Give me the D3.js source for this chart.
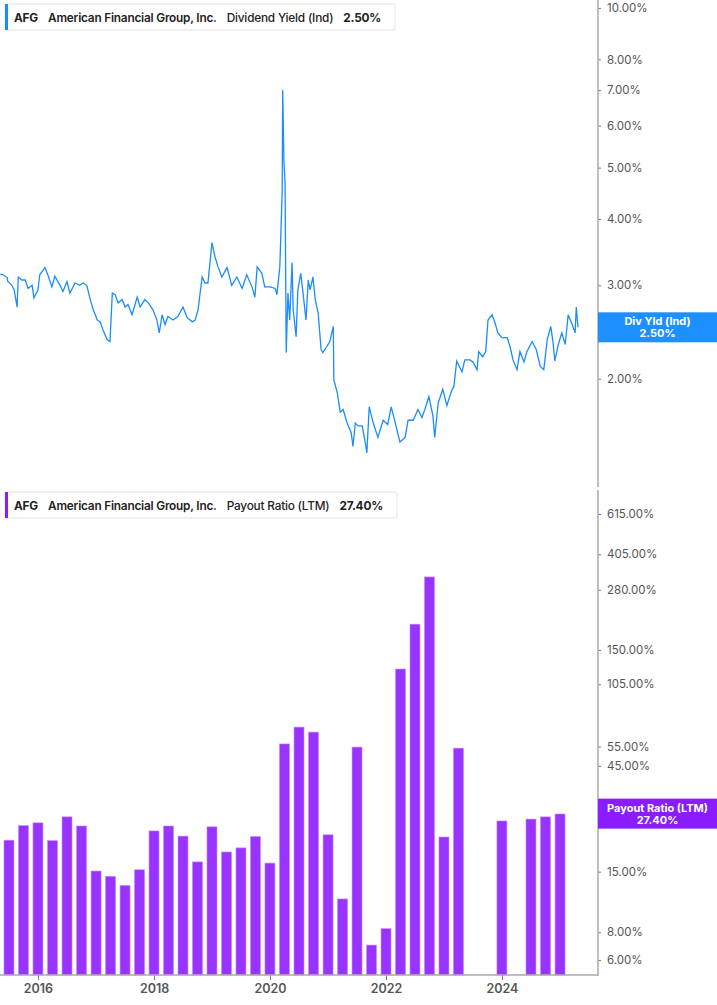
<!DOCTYPE html>
<html><head><meta charset="utf-8">
<script src="https://cdn.jsdelivr.net/npm/d3@7/dist/d3.min.js"></script>
<style>body{margin:0;background:#fff;font-family:Inter,"Open Sans",sans-serif}</style>
</head><body><svg id="c" width="717" height="1005"></svg>
<script>
// Dividend yield (%) by decimal year
const yieldYears = [2015.35,2015.40,2015.47,2015.48,2015.55,2015.59,2015.64,2015.66,2015.72,2015.78,2015.83,2015.90,2015.93,2016.00,2016.03,2016.12,2016.17,2016.24,2016.29,2016.38,2016.43,2016.50,2016.55,2016.64,2016.72,2016.78,2016.84,2016.90,2016.95,2017.02,2017.07,2017.12,2017.19,2017.24,2017.28,2017.33,2017.38,2017.45,2017.50,2017.55,2017.62,2017.71,2017.76,2017.84,2017.90,2017.98,2018.05,2018.09,2018.14,2018.19,2018.24,2018.33,2018.41,2018.50,2018.57,2018.66,2018.71,2018.76,2018.83,2018.88,2018.93,2019.00,2019.05,2019.10,2019.17,2019.26,2019.34,2019.43,2019.52,2019.60,2019.69,2019.74,2019.78,2019.86,2019.91,2020.00,2020.09,2020.12,2020.17,2020.21,2020.22,2020.24,2020.26,2020.28,2020.31,2020.34,2020.38,2020.40,2020.45,2020.48,2020.53,2020.57,2020.62,2020.66,2020.69,2020.74,2020.78,2020.83,2020.88,2020.91,2020.98,2021.03,2021.09,2021.10,2021.16,2021.21,2021.26,2021.33,2021.40,2021.43,2021.47,2021.52,2021.59,2021.64,2021.67,2021.71,2021.78,2021.86,2021.95,2022.03,2022.09,2022.16,2022.24,2022.33,2022.38,2022.47,2022.55,2022.62,2022.67,2022.74,2022.81,2022.84,2022.90,2022.98,2023.05,2023.14,2023.17,2023.22,2023.31,2023.36,2023.45,2023.50,2023.57,2023.60,2023.67,2023.72,2023.76,2023.83,2023.88,2023.93,2024.00,2024.09,2024.14,2024.19,2024.26,2024.31,2024.38,2024.43,2024.52,2024.59,2024.66,2024.72,2024.78,2024.84,2024.88,2024.91,2024.97,2025.03,2025.09,2025.14,2025.21,2025.26,2025.28,2025.31];
const yieldValues = [3.15,3.14,3.10,3.05,3.00,2.94,2.73,3.11,3.07,3.07,2.96,3.00,2.84,2.94,3.14,3.24,3.14,2.98,3.12,3.00,2.92,3.05,2.90,3.03,3.00,3.03,3.00,2.82,2.70,2.58,2.56,2.47,2.37,2.35,2.90,2.88,2.78,2.82,2.73,2.76,2.64,2.85,2.73,2.82,2.78,2.70,2.58,2.44,2.64,2.53,2.62,2.58,2.62,2.73,2.61,2.56,2.58,2.70,3.11,3.03,3.03,3.61,3.40,3.26,3.11,3.24,3.00,3.11,2.96,3.14,2.98,2.85,3.25,3.16,2.98,2.98,2.96,2.88,3.25,4.48,7.00,5.17,4.68,2.24,2.90,2.58,3.31,2.70,2.40,2.94,3.16,2.90,2.58,3.07,2.94,3.11,2.82,2.66,2.27,2.24,2.30,2.35,2.51,1.99,1.88,1.73,1.75,1.65,1.58,1.49,1.65,1.63,1.63,1.52,1.45,1.77,1.65,1.55,1.67,1.64,1.77,1.65,1.52,1.55,1.67,1.67,1.75,1.69,1.75,1.85,1.70,1.55,1.80,1.91,1.78,1.91,1.93,2.16,2.06,2.17,2.17,2.15,2.08,2.25,2.20,2.25,2.58,2.64,2.55,2.44,2.39,2.39,2.30,2.17,2.08,2.25,2.15,2.25,2.35,2.27,2.11,2.08,2.37,2.51,2.34,2.16,2.32,2.44,2.32,2.64,2.53,2.44,2.73,2.50];
// Payout ratio (LTM, %) by quarter
const payoutYears = [2015.50,2015.75,2016.00,2016.25,2016.50,2016.75,2017.00,2017.25,2017.50,2017.75,2018.00,2018.25,2018.50,2018.75,2019.00,2019.25,2019.50,2019.75,2020.00,2020.25,2020.50,2020.75,2021.00,2021.25,2021.50,2021.75,2022.00,2022.25,2022.50,2022.75,2023.00,2023.25,2024.00,2024.50,2024.75,2025.00];
const payoutValues = [20.8,24.2,24.9,20.7,26.5,24.1,15.1,14.3,13.0,15.3,22.9,24.1,21.7,16.6,23.9,18.4,19.2,21.6,16.4,56.5,67.3,63.9,22.0,11.3,54.7,7.0,8.3,123,196,320,21.5,54.1,25.4,25.9,26.5,27.3];
const yieldTicks = [2,3,4,5,6,7,8,10];
const payoutTicks = [6,8,15,25,45,55,105,150,280,405,615];
const yearTicks = [2016,2018,2020,2022,2024];

const toDate = y => { const yr = Math.floor(y); const s = new Date(yr,0,1), e = new Date(yr+1,0,1); return new Date(+s + (y-yr)*(e-s)); };
const svg = d3.select("#c");
const AX = 598;
const x = d3.scaleTime().domain([toDate(2015.345), toDate(2025.655)]).range([0, AX]);
const y1 = d3.scaleLog().domain([1.25, 10.35]).range([487, 0]);
const y2 = d3.scaleLog().domain([5.13, 773]).range([975, 492]);
const fmt = v => v.toFixed(2) + "%";

svg.append("path").datum(yieldYears.map((t,i)=>[toDate(t), yieldValues[i]]))
  .attr("fill","none").attr("stroke","#1a8cff").attr("stroke-width",1.3)
  .attr("d", d3.line().x(d=>x(d[0])).y(d=>y1(d[1])));

svg.append("g").selectAll("rect").data(payoutYears.map((t,i)=>[toDate(t), payoutValues[i]]))
  .join("rect").attr("x", d=>x(d[0])-5).attr("width",10)
  .attr("y", d=>y2(d[1])).attr("height", d=>975-y2(d[1]))
  .attr("fill","#9933ff").attr("stroke","#c58cff").attr("stroke-width",0.6);

function yAxis(scale, ticks, top, bottom){
  const g = svg.append("g").attr("transform",`translate(${AX},0)`)
    .call(d3.axisRight(scale).tickValues(ticks).tickFormat(fmt).tickSize(3).tickPadding(6));
  g.select(".domain").remove();
  g.append("line").attr("y1",top).attr("y2",bottom).attr("stroke","#aaa").attr("stroke-width",1.5);
  g.selectAll(".tick line").attr("stroke","#777");
  g.selectAll("text").attr("fill","#555").attr("font-size",11.5).attr("font-family","Inter,sans-serif");
}
yAxis(y1, yieldTicks, 0, 487);
yAxis(y2, payoutTicks, 490, 976);

const xa = svg.append("g").attr("transform","translate(0,975)")
  .call(d3.axisBottom(x).tickValues(yearTicks.map(v=>new Date(v,0,1))).tickFormat(d3.timeFormat("%Y")).tickSize(5).tickPadding(4));
xa.select(".domain").remove();
xa.append("line").attr("x1",0).attr("x2",AX).attr("stroke","#aaa").attr("stroke-width",1.5);
xa.selectAll(".tick line").attr("stroke","#777");
xa.selectAll("text").attr("fill","#555").attr("font-size",12.5).attr("font-weight",600).attr("font-family","Inter,sans-serif");

function legend(y, w, color, label, val){
  const g = svg.append("g").attr("transform",`translate(5,${y})`);
  g.append("rect").attr("width",w).attr("height",26).attr("fill","#fff").attr("stroke","#e3e3e3").attr("rx",2);
  g.append("rect").attr("width",3).attr("height",26).attr("fill",color);
  const t = g.append("text").attr("x",9).attr("y",17.5).attr("font-size",11.8).attr("fill","#222").attr("font-family","Inter,sans-serif").attr("letter-spacing",-0.2);
  t.append("tspan").attr("font-weight",700).text("AFG");
  t.append("tspan").attr("dx",10).attr("font-weight",600).text("American Financial Group, Inc.");
  t.append("tspan").attr("dx",10).attr("font-weight",500).text(label);
  t.append("tspan").attr("dx",10).attr("font-weight",700).text(val);
}
legend(4, 390, "#1a8cff", "Dividend Yield (Ind)", "2.50%");
legend(492, 392, "#8a1cff", "Payout Ratio (LTM)", "27.40%");

function tag(cy, color, l1, l2){
  const g = svg.append("g").attr("transform",`translate(${AX},${cy-15})`);
  g.append("rect").attr("width",717-AX).attr("height",30).attr("fill",color);
  g.append("text").attr("x",(717-AX)/2).attr("y",13).attr("text-anchor","middle").attr("fill","#fff").attr("font-size",11).attr("font-weight",700).text(l1);
  g.append("text").attr("x",(717-AX)/2).attr("y",25).attr("text-anchor","middle").attr("fill","#fff").attr("font-size",11).attr("font-weight",700).text(l2);
}
tag(y1(2.5), "#1e8fff", "Div Yld (Ind)", "2.50%");
tag(y2(27.4), "#8a1cff", "Payout Ratio (LTM)", "27.40%");
</script></body></html>
